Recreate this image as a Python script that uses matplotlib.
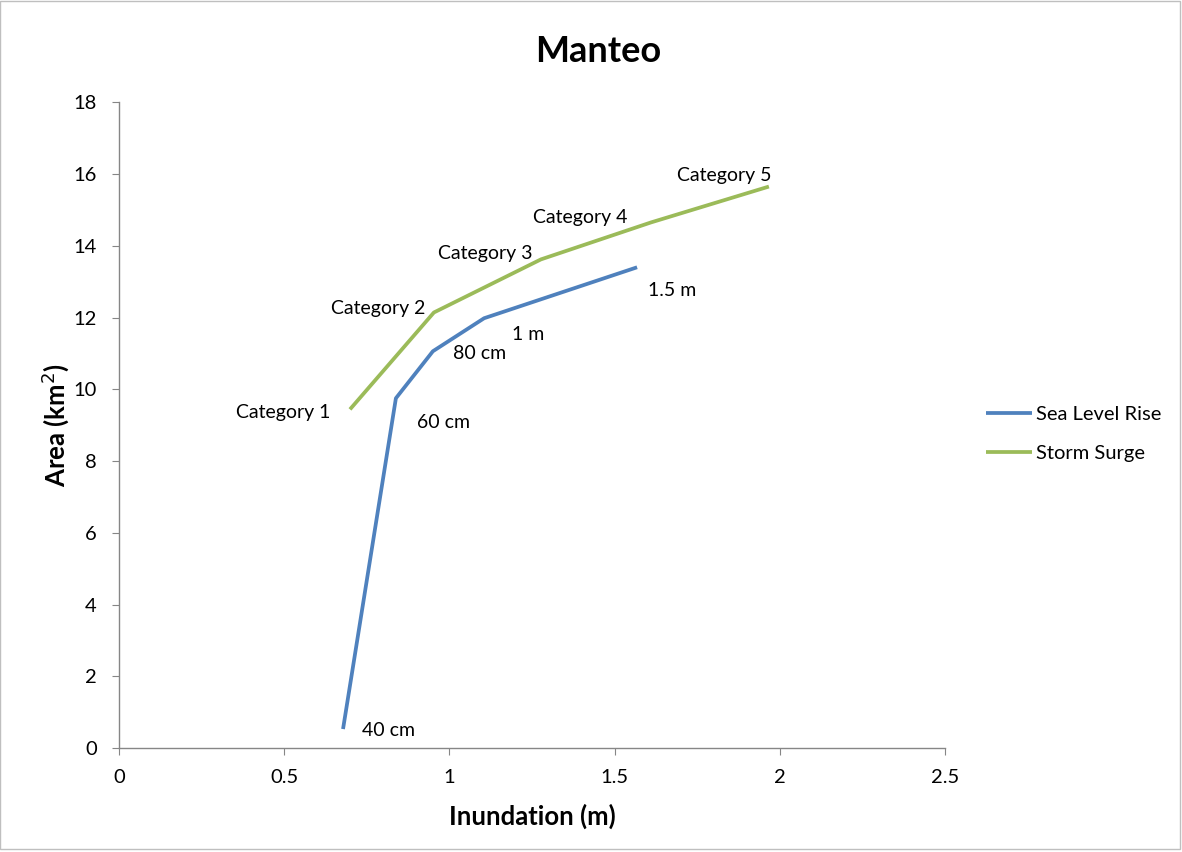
import matplotlib.pyplot as plt
from matplotlib.ticker import FuncFormatter
from matplotlib.patches import Rectangle

plt.rcParams['font.family'] = ['Lato', 'DejaVu Sans']

# Sea level rise scenarios
slr_x = [0.678, 0.838, 0.950, 1.105, 1.568]
slr_y = [0.53, 9.75, 11.06, 11.98, 13.40]
slr_labels = ["40 cm", "60 cm", "80 cm", "1 m", "1.5 m"]

# Storm surge categories
surge_x = [0.699, 0.953, 1.277, 1.610, 1.967]
surge_y = [9.44, 12.14, 13.62, 14.65, 15.65]
surge_labels = ["Category 1", "Category 2", "Category 3", "Category 4", "Category 5"]

BLUE = "#4F81BD"
GREEN = "#9BBB59"
GRAY = "#868686"
FS = 14

fig = plt.figure(figsize=(11.82, 8.52), dpi=100)
ax = fig.add_axes([0.1007, 0.122, 0.6988, 0.758])

ax.plot(slr_x, slr_y, color=BLUE, lw=2.7, label="Sea Level Rise", solid_capstyle="butt")
ax.plot(surge_x, surge_y, color=GREEN, lw=2.7, label="Storm Surge", solid_capstyle="butt")

# label offsets in pixels (dx, dy)
slr_off = [(19, -1), (21, -24), (20, -2), (28, -16), (11, -23)]
for x, y, t, (dx, dy) in zip(slr_x, slr_y, slr_labels, slr_off):
    ax.annotate(t, (x, y), xytext=(dx, dy), textcoords="offset pixels",
                ha="left", va="center", fontsize=FS)

surge_off = [(-20, -3), (-9, 4), (-8, 6), (-24, 5), (3, 11)]
for x, y, t, (dx, dy) in zip(surge_x, surge_y, surge_labels, surge_off):
    ax.annotate(t, (x, y), xytext=(dx, dy), textcoords="offset pixels",
                ha="right", va="center", fontsize=FS)

ax.set_xlim(0, 2.5)
ax.set_ylim(0, 18)
ax.set_xticks([0, 0.5, 1, 1.5, 2, 2.5])
ax.set_yticks(range(0, 19, 2))
ax.xaxis.set_major_formatter(FuncFormatter(lambda v, p: f"{v:g}"))

for s in ["top", "right"]:
    ax.spines[s].set_visible(False)
for s in ["left", "bottom"]:
    ax.spines[s].set_color(GRAY)
    ax.spines[s].set_linewidth(1.0)
ax.tick_params(direction="out", length=5, color=GRAY, labelsize=14.5)
ax.tick_params(axis="y", pad=11)
ax.tick_params(axis="x", pad=10)

fig.text(0.506, 0.939, "Manteo", fontsize=26, fontweight="bold", ha="center", va="center")
ax.set_xlabel("Inundation (m)", fontsize=18.5, fontweight="bold", labelpad=13)
ax.set_ylabel("Area (km$^2$)", fontsize=18.5, fontweight="bold", labelpad=2)

fig.legend(loc="center left", bbox_to_anchor=(0.827, 0.491), frameon=False,
           borderaxespad=0, fontsize=14.5, handlelength=2.33, handletextpad=0.15,
           labelspacing=1.1)

fig.patches.append(Rectangle((0.0, 0.004), 0.998, 0.995, transform=fig.transFigure,
                             fill=False, edgecolor="#BFBFBF", lw=1))

fig.savefig("out.png", dpi=100)
